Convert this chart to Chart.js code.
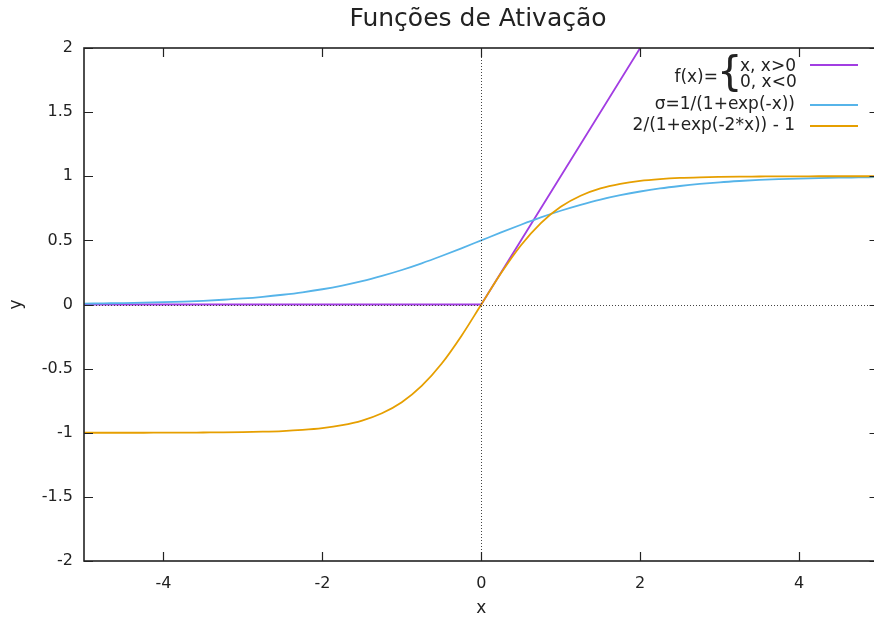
<!DOCTYPE html>
<html>
<head>
<meta charset="utf-8">
<script src="https://cdn.jsdelivr.net/npm/chart.js@4/dist/chart.umd.min.js"></script>
<style>
  html, body { margin: 0; padding: 0; background: #fff; overflow: hidden; }
  canvas { display: block; }
</style>
</head>
<body>
<canvas id="c" width="874" height="620"></canvas>
<script>
// Sample positions along x
const xs = [-5, -4.75, -4.5, -4.25, -4, -3.75, -3.5, -3.25, -3, -2.75, -2.5, -2.25, -2, -1.75, -1.5, -1.25, -1, -0.75, -0.5, -0.25,
            0, 0.25, 0.5, 0.75, 1, 1.25, 1.5, 1.75, 2, 2.25, 2.5, 2.75, 3, 3.25, 3.5, 3.75, 4, 4.25, 4.5, 4.75, 5];

// Logistic sigmoid values at xs
const sigmoidY = [0.007, 0.009, 0.011, 0.014, 0.018, 0.023, 0.029, 0.037, 0.047, 0.060, 0.076, 0.095, 0.119, 0.148, 0.182, 0.223, 0.269, 0.321, 0.378, 0.438,
                  0.500, 0.562, 0.622, 0.679, 0.731, 0.777, 0.818, 0.852, 0.881, 0.905, 0.924, 0.940, 0.953, 0.963, 0.971, 0.977, 0.982, 0.986, 0.989, 0.991, 0.993];

// Hyperbolic tangent values at xs
const tanhY = [-1.000, -1.000, -1.000, -1.000, -0.999, -0.999, -0.998, -0.997, -0.995, -0.992, -0.987, -0.978, -0.964, -0.941, -0.905, -0.848, -0.762, -0.635, -0.462, -0.245,
               0.000, 0.245, 0.462, 0.635, 0.762, 0.848, 0.905, 0.941, 0.964, 0.978, 0.987, 0.992, 0.995, 0.997, 0.998, 0.999, 0.999, 1.000, 1.000, 1.000, 1.000];

// Rectifier: flat on the left, identity on the right
const reluX = [-5, 0, 2.5];
const reluY = [0, 0, 2.5];

const xTicks = [-4, -2, 0, 2, 4];
const yTicks = [-2, -1.5, -1, -0.5, 0, 0.5, 1, 1.5, 2];
const yTickLabels = ['-2', '-1.5', '-1', '-0.5', '0', '0.5', '1', '1.5', '2'];

// x range of the frame; the window shows the plot up to just short of its right edge
const X_MIN = -5, X_MAX = 5, X_VISIBLE_MAX = 4.943;

const FONT = 'DejaVu Sans';
const INK = '#222';
const C_RELU = '#a23de2';
const C_SIG = '#56b4e9';
const C_TANH = '#e69f00';

const pts = (xa, ya) => xa.map((x, i) => ({ x, y: ya[i] }));

// Border, inward ticks on all four sides, dotted zero axes, title and key
const frame = {
  id: 'frame',
  afterDatasetsDraw(chart) {
    const { ctx, chartArea: a, scales: { x, y } } = chart;
    const L = x.getPixelForValue(X_MIN), R = x.getPixelForValue(X_MAX);
    ctx.save();
    ctx.beginPath();
    ctx.rect(a.left, a.top, a.right - a.left, a.bottom - a.top);
    ctx.clip();
    ctx.strokeStyle = '#444';
    ctx.lineWidth = 1;
    ctx.setLineDash([1, 2]);
    const x0 = Math.round(x.getPixelForValue(0)) + 0.5;
    const y0 = Math.round(y.getPixelForValue(0)) + 0.5;
    ctx.beginPath();
    ctx.moveTo(a.left, y0); ctx.lineTo(a.right, y0);
    ctx.moveTo(x0, a.top); ctx.lineTo(x0, a.bottom);
    ctx.stroke();
    ctx.restore();

    ctx.save();
    ctx.strokeStyle = INK;
    ctx.lineWidth = 1.6;
    ctx.strokeRect(L, a.top, R - L, a.bottom - a.top);
    ctx.lineWidth = 1.2;
    const T = 9;
    ctx.beginPath();
    xTicks.forEach(v => {
      const px = Math.round(x.getPixelForValue(v)) + 0.5;
      ctx.moveTo(px, a.bottom); ctx.lineTo(px, a.bottom - T);
      ctx.moveTo(px, a.top); ctx.lineTo(px, a.top + T);
    });
    yTicks.forEach(v => {
      const py = Math.round(y.getPixelForValue(v)) + 0.5;
      ctx.moveTo(L, py); ctx.lineTo(L + T, py);
      ctx.moveTo(R, py); ctx.lineTo(R - T, py);
    });
    ctx.stroke();
    ctx.restore();
  },
  afterDraw(chart) {
    const { ctx, chartArea: a, scales: { x } } = chart;
    const mid = (x.getPixelForValue(X_MIN) + x.getPixelForValue(X_MAX)) / 2;
    ctx.save();
    ctx.fillStyle = INK;
    // title
    ctx.font = `25px "${FONT}"`;
    ctx.textAlign = 'center';
    ctx.textBaseline = 'middle';
    ctx.fillText('Funções de Ativação', 478, 19);
    // axis titles
    ctx.font = `17px "${FONT}"`;
    ctx.fillText('x', mid, 609);
    ctx.save();
    ctx.translate(17, (a.top + a.bottom) / 2);
    ctx.rotate(-Math.PI / 2);
    ctx.fillText('y', 0, 0);
    ctx.restore();

    // key
    const tx = 795, l0 = 810, l1 = 858;
    ctx.textAlign = 'right';
    ctx.font = `17px "${FONT}"`;
    ctx.fillText('f(x)=', 718, 78);
    ctx.textAlign = 'left';
    ctx.fillText('x, x>0', 740, 67);
    ctx.fillText('0, x<0', 740, 83);
    ctx.font = `40px "${FONT}"`;
    ctx.fillText('{', 717, 75);
    ctx.font = `17px "${FONT}"`;
    ctx.textAlign = 'right';
    ctx.fillText('σ=1/(1+exp(-x))', tx, 105);
    ctx.fillText('2/(1+exp(-2*x)) - 1', tx, 126);
    const key = [[C_RELU, 65], [C_SIG, 105], [C_TANH, 126]];
    ctx.lineWidth = 1.8;
    key.forEach(([c, yy]) => {
      ctx.strokeStyle = c;
      ctx.beginPath();
      ctx.moveTo(l0, yy); ctx.lineTo(l1, yy);
      ctx.stroke();
    });
    ctx.restore();
  }
};

const lineStyle = { showLine: true, pointRadius: 0, borderWidth: 1.8, fill: false };

new Chart(document.getElementById('c'), {
  type: 'scatter',
  data: {
    datasets: [
      Object.assign({ label: 'relu', data: pts(reluX, reluY), borderColor: C_RELU, order: 3, tension: 0 }, lineStyle),
      Object.assign({ label: 'sigmoid', data: pts(xs, sigmoidY), borderColor: C_SIG, order: 2, cubicInterpolationMode: 'monotone' }, lineStyle),
      Object.assign({ label: 'tanh', data: pts(xs, tanhY), borderColor: C_TANH, order: 1, cubicInterpolationMode: 'monotone' }, lineStyle)
    ]
  },
  options: {
    responsive: false,
    animation: false,
    devicePixelRatio: 1,
    layout: { padding: { top: 48, right: 0, left: 0, bottom: 0 } },
    plugins: { legend: { display: false }, tooltip: { enabled: false }, title: { display: false } },
    scales: {
      x: {
        type: 'linear', min: X_MIN, max: X_VISIBLE_MAX,
        afterBuildTicks: s => { s.ticks = xTicks.map(v => ({ value: v })); },
        afterFit: s => { s.height = 59; },
        grid: { display: false, drawTicks: false },
        border: { display: false },
        ticks: { color: INK, font: { family: FONT, size: 16 }, padding: 13, maxRotation: 0 }
      },
      y: {
        type: 'linear', min: -2, max: 2,
        afterBuildTicks: s => { s.ticks = yTicks.map(v => ({ value: v })); },
        afterFit: s => { s.width = 84; },
        grid: { display: false, drawTicks: false },
        border: { display: false },
        ticks: {
          color: INK, font: { family: FONT, size: 16 }, padding: 11,
          callback: v => yTickLabels[yTicks.indexOf(v)]
        }
      }
    }
  },
  plugins: [frame]
});
</script>
</body>
</html>
